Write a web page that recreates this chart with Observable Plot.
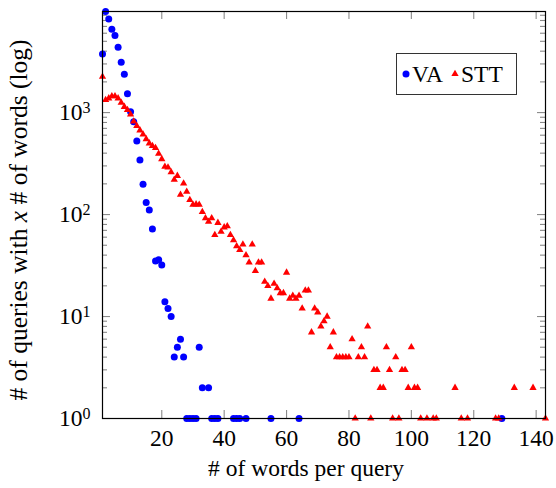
<!DOCTYPE html>
<html><head><meta charset="utf-8">
<script src="https://cdn.jsdelivr.net/npm/d3@7"></script>
<script src="https://cdn.jsdelivr.net/npm/@observablehq/plot@0.6"></script>
<style>
html,body{margin:0;padding:0;background:#fff;}
#wrap{position:relative;width:556px;height:488px;}
#legend{position:absolute;left:396px;top:53px;}
</style></head>
<body><div id="wrap"></div>
<script>
// ---- data ----
const vaX = [1,2,3,4,5,6,7,8,9,10,11,12,13,14,15,16,17,18,19,20,21,22,23,24,25,26,27,28,29,30,31,32,33,35,36,37,38,43,44,45,47,55,64,129];
const vaY = [3760,9780,8280,6560,5690,4370,3120,2380,1530,1020,814,526,343,198,131,111,72,35,36,32,14,12,10,4,5,6,4,1,1,1,1,5,2,2,1,1,1,1,1,1,1,1,1,1];
const sttX = [1,2,3,4,5,6,7,8,9,10,11,12,13,14,15,16,17,18,19,20,21,22,23,24,25,26,27,28,29,30,31,32,33,34,35,36,37,38,39,40,41,42,43,44,45,46,47,48,49,50,51,52,53,54,55,56,57,58,59,60,61,62,63,64,65,66,67,68,69,70,71,72,73,74,75,76,77,78,79,80,81,82,83,84,85,86,87,88,89,90,91,92,93,94,95,96,97,98,99,100,101,102,103,105,107,108,114,116,118,127,128,133,139,143];
const sttY = [2250,1330,1380,1450,1450,1380,1250,1140,1060,960,820,740,670,610,550,500,470,450,395,350,295,290,260,220,240,157,202,168,139,125,126,125,106,92,85,92,63,83,68,75,77,63,56,49,45,51,40,34,51,28,34,34,22,20,15,21,19,17,17,27,15,16,15,16,12,18,18,7,12,11,8,9,10,5,7,4,4,4,4,4,6,1,4,5,4,8,1,3,3,2,2,5,3,1,4,1,3,3,2,5,2,2,1,1,1,1,2,1,1,1,1,2,2,1];
const xTicks = [20,40,60,80,100,120,140];
const yTicks = [1,10,100,1000];
const yMinor = [2,3,4,5,6,7,8,9,20,30,40,50,60,70,80,90,200,300,400,500,600,700,800,900,2000,3000,4000,5000,6000,7000,8000,9000];
const seriesNames = ["VA","STT"];
const xLabel = "# of words per query";
const yLabel = "# of queries with x # of words (log)";

const va = vaX.map((x,i)=>({x, y: vaY[i]}));
const stt = sttX.map((x,i)=>({x, y: sttY[i]}));

const W=556, H=488, mT=11, mB=70, mL=102, mR=11;
const ih = H-mT-mB, iw = W-mL-mR;
const tickC = "#8a8a8a";
const FONT = "'Liberation Serif', 'Times New Roman', serif";

const chart = Plot.plot({
  width: W, height: H, marginTop: mT, marginBottom: mB, marginLeft: mL, marginRight: mR,
  style: {fontFamily: FONT, fontSize: "23.5px", background: "white", color: "black"},
  x: {domain: [1,143]},
  y: {type: "log", domain: [1, 9800]},
  marks: [
    Plot.tickX(xTicks, {x: d=>d, insetTop: ih-8, stroke: tickC, strokeWidth: 1.1}),
    Plot.tickX(xTicks, {x: d=>d, insetBottom: ih-8, stroke: tickC, strokeWidth: 1.1}),
    Plot.tickY(yTicks, {y: d=>d, insetRight: iw-8, stroke: tickC, strokeWidth: 1.1}),
    Plot.tickY(yTicks, {y: d=>d, insetLeft: iw-8, stroke: tickC, strokeWidth: 1.1}),
    Plot.tickY(yMinor, {y: d=>d, insetRight: iw-5, stroke: tickC, strokeWidth: 1.1}),
    Plot.tickY(yMinor, {y: d=>d, insetLeft: iw-5, stroke: tickC, strokeWidth: 1.1}),
    Plot.axisX({ticks: xTicks, tickSize: 0, tickPadding: 11, label: null}),
    Plot.axisY({ticks: yTicks, tickSize: 0, tickPadding: 12, label: null, tickFormat: d => "10^" + Math.round(Math.log10(d))}),
    Plot.dot(va, {x: "x", y: "y", r: 3.5, fill: "#0000ff", stroke: null}),
    Plot.dot(stt, {x: "x", y: "y", r: 2.7, symbol: "triangle", fill: "#ff0000", stroke: null}),
    Plot.frame({stroke: "black", strokeWidth: 1.2}),
    Plot.text([xLabel], {frameAnchor: "bottom", dy: 57, dx: -18, text: d=>d}),
    Plot.text([yLabel], {frameAnchor: "left", rotate: -90, dx: -84, dy: 5, textAnchor: "middle", fontSize: 25.5, text: d=>d})
  ]
});

// superscript tick labels
d3.select(chart).selectAll("g[aria-label='y-axis tick label'] text").each(function(){
  const t = this.textContent;
  if (t.indexOf("^") >= 0) {
    const [b, e] = t.split("^");
    const sel = d3.select(this);
    sel.text(b);
    sel.append("tspan").attr("dy", "-0.45em").attr("font-size", "16px").text(e);
  }
});
// italic x in y label
d3.select(chart).selectAll("text").each(function(){
  if (this.textContent === yLabel) {
    const sel = d3.select(this);
    const parts = yLabel.split(" x ");
    sel.text(parts[0] + " ");
    sel.append("tspan").attr("font-style", "italic").text("x");
    sel.append("tspan").text(" " + parts[1]);
  }
});

const wrap = document.getElementById("wrap");
wrap.appendChild(chart);

// legend
const lg = d3.select(wrap).append("svg").attr("id","legend").attr("width",122).attr("height",43)
  .style("font-family", FONT).style("font-size","23.5px");
lg.append("rect").attr("x",0.5).attr("y",0.5).attr("width",120).attr("height",41).attr("fill","white").attr("stroke","#333").attr("stroke-width",1);
lg.append("circle").attr("cx",10).attr("cy",21).attr("r",3.5).attr("fill","#0000ff");
lg.append("text").attr("x",16).attr("y",29).text(seriesNames[0]);
lg.append("path").attr("d", d3.symbol(d3.symbolTriangle, Math.PI*2.7*2.7)()).attr("transform","translate(59,21)").attr("fill","#ff0000");
lg.append("text").attr("x",65).attr("y",29).text(seriesNames[1]);
</script></body></html>
